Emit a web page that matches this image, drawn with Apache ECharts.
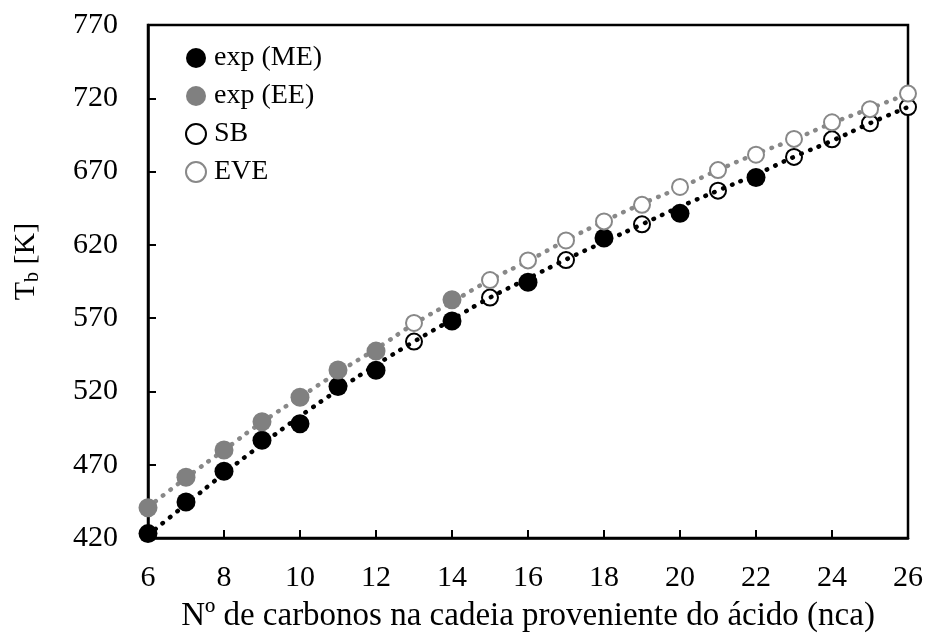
<!DOCTYPE html>
<html>
<head>
<meta charset="utf-8">
<script src="https://cdn.jsdelivr.net/npm/echarts@6/dist/echarts.min.js"></script>
<style>
html,body{margin:0;padding:0;background:#fff;}
#c{width:926px;height:638px;}
</style>
</head>
<body>
<div id="c"></div>
<script>
// Data
var xME = [6, 7, 8, 9, 10, 11, 12, 14, 16, 18, 20, 22];
var yME = [423, 444.5, 465.5, 486.7, 498, 523.4, 534.5, 568, 594.5, 624.7, 641.5, 666];
var xEE = [6, 7, 8, 9, 10, 11, 12, 14];
var yEE = [440.7, 461.4, 480.1, 499.3, 516, 534.6, 547.5, 582.5];
var xSB = [13, 15, 17, 19, 21, 23, 24, 25, 26];
var ySB = [554, 584, 609.6, 634, 657, 680, 692, 703, 714];
var xEVE = [13, 15, 16, 17, 18, 19, 20, 21, 22, 23, 24, 25, 26];
var yEVE = [566.7, 596, 609.4, 623, 636, 647.3, 659.5, 671, 681.5, 692.3, 703.6, 712.6, 723.2];
var xTrend = [6, 7, 8, 9, 10, 11, 12, 13, 14, 15, 16, 17, 18, 19, 20, 21, 22, 23, 24, 25, 26];
var yTrendSB = [422, 443, 464, 484, 503, 521, 538, 554, 569, 584, 597, 610, 622, 634, 646, 657, 668, 680, 691, 703, 714];
var yTrendEVE = [441, 461, 480, 499, 516, 533, 549, 566, 581, 596, 609, 623, 636, 648, 659, 671, 682, 692, 703, 713, 723];
var seriesNames = ['exp (ME)', 'exp (EE)', 'SB', 'EVE'];
var xTitle = 'Nº de carbonos na cadeia proveniente do ácido (nca)';

function pairs(xs, ys) { return xs.map(function (x, i) { return [x, ys[i]]; }); }

var FONT = '"Liberation Serif", "Times New Roman", serif';
var chart = echarts.init(document.getElementById('c'), null, {renderer: 'canvas'});
chart.setOption({
  animation: false,
  backgroundColor: '#fff',
  textStyle: {fontFamily: FONT, color: '#000'},
  grid: {left: 148, right: 18, top: 25, bottom: 95, show: true, borderColor: '#000', borderWidth: 2.5, backgroundColor: 'transparent'},
  legend: {
    data: seriesNames,
    orient: 'vertical',
    left: 180, top: 39,
    itemWidth: 20, itemHeight: 20, itemGap: 10,
    textStyle: {fontFamily: FONT, fontSize: 28, color: '#000', padding: [0, 0, 0, 3]}
  },
  xAxis: {
    type: 'value', min: 6, max: 26, interval: 2,
    name: xTitle, nameLocation: 'middle', nameGap: 62,
    nameTextStyle: {fontFamily: FONT, fontSize: 33, color: '#000'},
    axisLine: {show: true, lineStyle: {color: '#000', width: 2.5}},
    axisTick: {show: true, inside: true, length: 8, lineStyle: {color: '#000', width: 2}},
    axisLabel: {fontFamily: FONT, fontSize: 30, color: '#000', margin: 25},
    splitLine: {show: false}
  },
  yAxis: {
    type: 'value', min: 420, max: 770, interval: 50,
    name: '{a|T}{s|b}{a| [K]}', nameLocation: 'middle', nameGap: 105, nameRotate: 90,
    nameTextStyle: {
      fontFamily: FONT, fontSize: 30, color: '#000', padding: [0, 0, 0, 40],
      rich: {
        a: {fontFamily: FONT, fontSize: 30, color: '#000'},
        s: {fontFamily: FONT, fontSize: 20, color: '#000', verticalAlign: 'bottom', padding: [14, 0, 0, 0]}
      }
    },
    axisLine: {show: true, lineStyle: {color: '#000', width: 2.5}},
    axisTick: {show: true, inside: true, length: 8, lineStyle: {color: '#000', width: 2}},
    axisLabel: {fontFamily: FONT, fontSize: 30, color: '#000', margin: 30},
    splitLine: {show: false}
  },
  series: [
    {
      name: 'trendEVE', type: 'line', data: pairs(xTrend, yTrendEVE), smooth: true, symbol: 'none', z: 1,
      lineStyle: {color: '#888', width: 4.5, type: [0.5, 9], cap: 'round'}, silent: true
    },
    {
      name: 'exp (ME)', type: 'scatter', data: pairs(xME, yME), symbol: 'circle', symbolSize: 19, z: 2,
      itemStyle: {color: '#000', opacity: 1}
    },
    {
      name: 'exp (EE)', type: 'scatter', data: pairs(xEE, yEE), symbol: 'circle', symbolSize: 19, z: 2,
      itemStyle: {color: '#808080', opacity: 1}
    },
    {
      name: 'SB', type: 'scatter', data: pairs(xSB, ySB), symbol: 'circle', symbolSize: 16, z: 3,
      itemStyle: {color: '#fff', borderColor: '#000', borderWidth: 2, opacity: 1}
    },
    {
      name: 'EVE', type: 'scatter', data: pairs(xEVE, yEVE), symbol: 'circle', symbolSize: 16, z: 3,
      itemStyle: {color: '#fff', borderColor: '#888', borderWidth: 2, opacity: 1}
    },
    {
      name: 'trendSB', type: 'line', data: pairs(xTrend, yTrendSB), smooth: true, symbol: 'none', z: 4,
      lineStyle: {color: '#000', width: 4.5, type: [0.5, 9], cap: 'round'}, silent: true
    }
  ]
});
</script>
</body>
</html>
